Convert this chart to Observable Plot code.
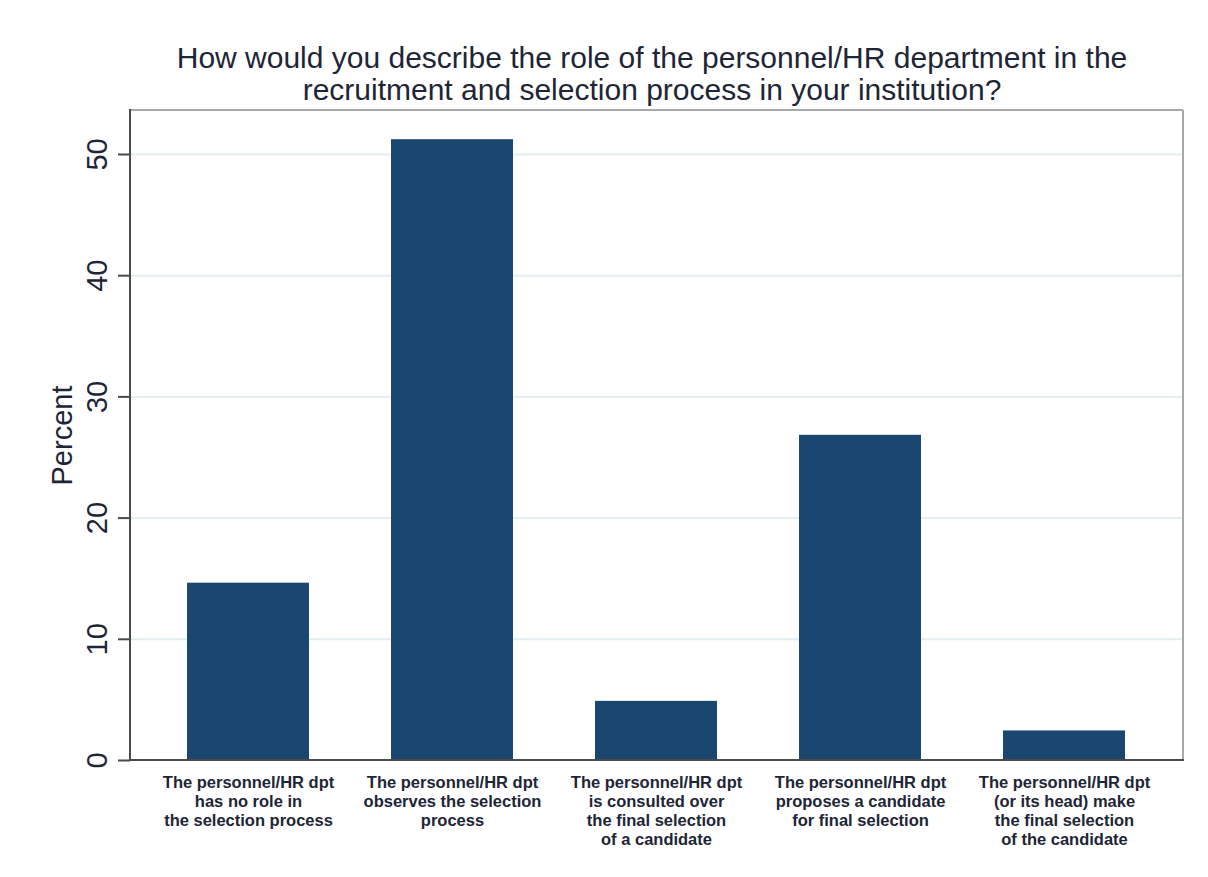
<!DOCTYPE html>
<html>
<head>
<meta charset="utf-8">
<script src="https://cdn.jsdelivr.net/npm/d3@7"></script>
<script src="https://cdn.jsdelivr.net/npm/@observablehq/plot@0.6"></script>
<style>
  html, body { margin: 0; padding: 0; background: #ffffff; }
  #wrap { width: 1208px; height: 877px; position: relative; font-family: "Liberation Sans", Arial, sans-serif; }
  #title { width: 1208px; box-sizing: border-box; padding-left: 96px; padding-top: 42px; height: 106px;
           text-align: center; font-size: 30px; line-height: 32px; color: #1e2536; white-space: nowrap; }
  #chart svg { display: block; }
</style>
</head>
<body>
<div id="wrap">
  <div id="title">How would you describe the role of the personnel/HR department in the<br>recruitment and selection process in your institution?</div>
  <div id="chart"></div>
</div>
<script>
const categories = [
  "The personnel/HR dpt\nhas no role in\nthe selection process",
  "The personnel/HR dpt\nobserves the selection\nprocess",
  "The personnel/HR dpt\nis consulted over\nthe final selection\nof a candidate",
  "The personnel/HR dpt\nproposes a candidate\nfor final selection",
  "The personnel/HR dpt\n(or its head) make\nthe final selection\nof the candidate"
];
const percents = [14.63, 51.22, 4.88, 26.83, 2.44];
const yTicks = [0, 10, 20, 30, 40, 50];
const gridTicks = [10, 20, 30, 40, 50];
const yLabel = "Percent";

const data = categories.map((c, i) => ({category: c, percent: percents[i]}));

const frameLines = (index, scales, values, dims) => {
  const {width, height, marginLeft, marginRight, marginTop, marginBottom} = dims;
  const g = d3.create("svg:g");
  const x0 = marginLeft, x1 = width - marginRight, y0 = marginTop, y1 = height - marginBottom;
  g.append("line").attr("x1", x0).attr("x2", x1).attr("y1", y0).attr("y2", y0)
    .attr("stroke", "#a8a8a8").attr("stroke-width", 2);
  g.append("line").attr("x1", x1).attr("x2", x1).attr("y1", y0).attr("y2", y1)
    .attr("stroke", "#a8a8a8").attr("stroke-width", 2);
  g.append("line").attr("x1", x0).attr("x2", x0).attr("y1", y0 - 1).attr("y2", y1 + 1)
    .attr("stroke", "#4a4a4a").attr("stroke-width", 2);
  g.append("line").attr("x1", x0 - 1).attr("x2", x1 + 1).attr("y1", y1).attr("y2", y1)
    .attr("stroke", "#4a4a4a").attr("stroke-width", 2);
  return g.node();
};

const chart = Plot.plot({
  width: 1208,
  height: 771,
  marginLeft: 130,
  marginRight: 25,
  marginTop: 4,
  marginBottom: 117,
  style: {fontFamily: "'Liberation Sans', Arial, sans-serif", background: "#ffffff", color: "#1e2536"},
  x: {domain: categories, paddingInner: 0.4, paddingOuter: 0.27, label: null},
  y: {domain: [0, 53.63], label: null},
  marks: [
    Plot.gridY(gridTicks, {stroke: "#e4eef0", strokeOpacity: 1, strokeWidth: 2}),
    Plot.barY(data, {x: "category", y: "percent", fill: "#1a476f"}),
    Plot.axisY(yTicks, {tickSize: 12, tickRotate: -90, fontSize: 29, tickPadding: 12,
                        stroke: "#4a4a4a", strokeWidth: 2, fill: "#1e2536", label: null}),
    Plot.axisX({tickSize: 0, tickPadding: 14, fontSize: 16.5, fontWeight: "bold", lineHeight: 1.15,
                fill: "#1e2536", label: null}),
    frameLines,
    Plot.text([yLabel], {text: d => d, frameAnchor: "left", textAnchor: "middle", rotate: -90, dx: -68,
                         fontSize: 29, fill: "#1e2536"})
  ]
});
document.getElementById("chart").appendChild(chart);
</script>
</body>
</html>
